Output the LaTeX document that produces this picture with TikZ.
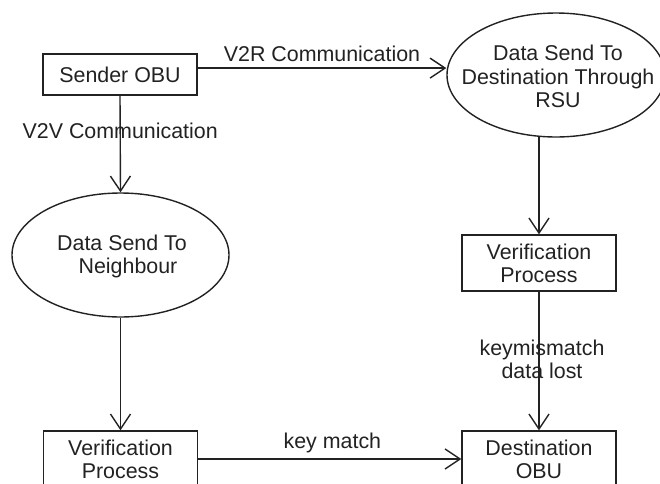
\documentclass[tikz,border=0pt]{standalone}
\usepackage{fontspec}
\setmainfont{Liberation Sans}
\usetikzlibrary{shapes.geometric,arrows.meta}
\definecolor{ink}{HTML}{222222}
\tikzset{
  every node/.style={text=ink, font=\fontsize{10.7}{11.6}\selectfont},
  boxnode/.style={draw=ink, line width=0.7pt, rectangle, inner sep=0pt, minimum width=77pt, minimum height=28pt, align=center},
  ovalnode/.style={draw=ink, line width=0.7pt, ellipse, inner sep=0pt},
  txt/.style={align=center, inner sep=0pt},
  conn/.style={draw=ink, line width=0.7pt, -{Straight Barb[length=7.5pt,width=10pt,line width=0.7pt]}},
}
\begin{document}
\begin{tikzpicture}[x=0.5pt,y=-0.5pt]
\useasboundingbox (0,0) rectangle (660,483);
\clip (0,0) rectangle (660,483);
% nodes
\node[boxnode, minimum height=20.5pt] (sender) at (120,74.5) {Sender OBU};
\node[ovalnode, minimum width=109pt, minimum height=62pt] (rsu) at (556,75) {};
\node[txt] (rsut) at (558,76.5) {Data Send To\\Destination Through\\RSU};
\node[ovalnode, minimum width=108.5pt, minimum height=62pt] (nbr) at (120.5,255) {};
\node[txt] (nbrt) at (122,256.5) {Data Send To\\\hspace*{6pt}Neighbour};
\node[boxnode] (ver1) at (539,263) {Verification\\Process};
\node[boxnode] (ver2) at (120.5,459) {Verification\\Process};
\node[boxnode] (dest) at (539,459) {Destination\\OBU};
% connectors
\draw[conn] ([yshift=3.2pt]sender.east) -- ([yshift=3.2pt]sender.east -| rsu.west)
  node[midway, above=3pt, txt] (v2r) {V2R Communication};
\draw[conn] (sender.south) -- (nbr.north)
  node[pos=0.36, txt] (v2v) {V2V Communication};
\draw[conn] (ver1.north |- 0,136) -- (ver1.north);
\draw[conn] (nbr.south) -- (ver2.north);
\draw[conn] (ver1.south) -- (dest.north)
  node[pos=0.49, txt, xshift=1.5pt] (km) {keymismatch\\data lost};
\draw[conn] (ver2.east) -- (dest.west)
  node[pos=0.51, above=2.5pt, txt] (kmatch) {key match};
\end{tikzpicture}
\end{document}
